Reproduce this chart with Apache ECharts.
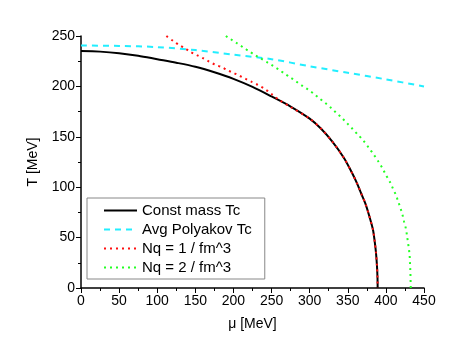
<!DOCTYPE html>
<html>
<head>
<meta charset="utf-8">
<script src="https://cdn.jsdelivr.net/npm/echarts@6/dist/echarts.min.js"></script>
<style>html,body{margin:0;padding:0;background:#fff}#c{width:463px;height:362px}</style>
</head>
<body>
<div id="c"></div>
<script>
var seriesNames = ['Const mass Tc', 'Avg Polyakov Tc', 'Nq = 1 / fm^3', 'Nq = 2 / fm^3'];
var xTicks = [0, 50, 100, 150, 200, 250, 300, 350, 400, 450];
var yTicks = [0, 50, 100, 150, 200, 250];

var constMu = [0, 25, 50, 75, 100, 125, 150, 175, 200, 225, 250, 275, 300, 315, 330, 345, 355, 362, 368, 373, 378, 383, 385.5, 387, 388.3, 389, 389.2];
var constT  = [235, 234.5, 233, 230.5, 227, 223.5, 219.5, 214, 207.5, 199.5, 190, 180, 168, 158, 145, 129, 115, 104, 93, 84, 72, 58, 45, 35, 22, 10, 0];

var polyMu = [0, 50, 100, 150, 200, 250, 300, 350, 400, 450];
var polyT  = [240.5, 240.2, 239, 236, 231.5, 227, 220, 213.5, 207, 200];

var nq1Mu = [112, 121, 129, 137, 144, 152, 160, 168, 176, 185, 192, 200, 208, 216, 224, 232, 240, 250, 260, 275, 300, 315, 330, 345, 355, 362, 368, 373, 378, 383, 385.5, 387, 388.3, 389, 389.2];
var nq1T  = [250, 245, 241, 237.5, 234, 231, 228, 224.6, 221.6, 219, 216, 213.5, 210.5, 207.5, 204.5, 201.5, 198, 192.5, 186.5, 179.5, 168, 158, 145, 129, 115, 104, 93, 84, 72, 58, 45, 35, 22, 10, 0];

var nq2Mu = [190, 196.5, 204.7, 212.5, 220.4, 228.3, 236, 244, 252, 260, 267, 275, 282.5, 290, 298, 305.7, 313, 320.5, 328, 335, 342, 349, 356, 363.4, 370, 377, 383.5, 389.7, 395, 399.7, 405, 409, 413, 416.3, 419.3, 422, 424, 426.3, 427.7, 429, 430.3, 431.2, 431.6, 432, 432.3, 432.5, 432.6];
var nq2T  = [250, 246.8, 242.8, 238.8, 234.9, 231, 227.6, 224, 220.3, 216.4, 212.7, 208.7, 204.8, 200.8, 196.8, 192.6, 188, 183.6, 178.7, 173.7, 169, 163.5, 158, 152, 146.7, 139.7, 133, 126, 119.5, 112.6, 105.7, 99, 92.5, 85.5, 79, 72, 65.4, 58.8, 52, 45, 38.3, 31.7, 24.8, 18, 11.5, 4.5, 0];

function zip(a, b) { return a.map(function (v, i) { return [v, b[i]]; }); }

var FONT = 'Liberation Sans, Arial, sans-serif';
var chart = echarts.init(document.getElementById('c'), null, {renderer: 'canvas'});
var axisCommon = {
  type: 'value',
  nameLocation: 'middle',
  nameTextStyle: {fontFamily: FONT, fontSize: 14, color: '#000'},
  axisLine: {show: true, onZero: false, lineStyle: {color: '#000', width: 1.5}},
  axisTick: {show: true, inside: false, length: 5, lineStyle: {color: '#000', width: 1}},
  minorTick: {show: true, splitNumber: 2, length: 3, lineStyle: {color: '#000', width: 1}},
  axisLabel: {fontFamily: FONT, fontSize: 14, color: '#000', margin: 6},
  splitLine: {show: false}
};
var lineCommon = {type: 'line', showSymbol: false, symbol: 'none', smooth: 0.3, clip: true};
chart.setOption({
  animation: false,
  backgroundColor: '#fff',
  grid: {left: 81, right: 39, top: 36, bottom: 74, containLabel: false},
  xAxis: Object.assign({}, axisCommon, {
    name: 'μ [MeV]', nameGap: 29, min: xTicks[0], max: xTicks[xTicks.length - 1], interval: 50
  }),
  yAxis: Object.assign({}, axisCommon, {
    name: 'T [MeV]', nameGap: 41, min: yTicks[0], max: yTicks[yTicks.length - 1], interval: 50
  }),
  legend: {
    orient: 'vertical', left: 87, top: 198,
    padding: [5, 13, 4, 16],
    itemWidth: 33, itemHeight: 14, itemGap: 4,
    borderColor: '#888', borderWidth: 1,
    itemStyle: {opacity: 0},
    textStyle: {fontFamily: FONT, fontSize: 15, color: '#000'},
    data: seriesNames
  },
  series: [
    Object.assign({}, lineCommon, {name: seriesNames[0], data: zip(constMu, constT),
     lineStyle: {color: '#000', width: 2}, itemStyle: {color: '#000'}}),
    Object.assign({}, lineCommon, {name: seriesNames[1], data: zip(polyMu, polyT),
     lineStyle: {color: '#22eeff', width: 2, type: [6, 5]}, itemStyle: {color: '#22eeff'}}),
    Object.assign({}, lineCommon, {name: seriesNames[2], data: zip(nq1Mu, nq1T),
     lineStyle: {color: '#ff1010', width: 2, type: [2, 4]}, itemStyle: {color: '#ff1010'}}),
    Object.assign({}, lineCommon, {name: seriesNames[3], data: zip(nq2Mu, nq2T),
     lineStyle: {color: '#22ff22', width: 2, type: [2, 4]}, itemStyle: {color: '#22ff22'}})
  ]
});
</script>
</body>
</html>
